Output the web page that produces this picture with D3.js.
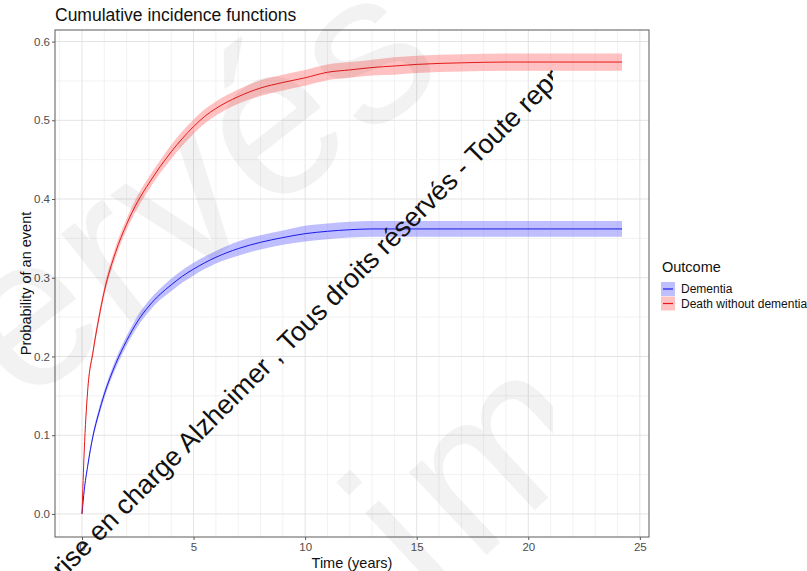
<!DOCTYPE html>
<html>
<head>
<meta charset="utf-8">
<script src="https://cdn.jsdelivr.net/npm/d3@7"></script>
<style>
  body { margin: 0; background: #fff; }
  text { font-family: "Liberation Sans", Arial, sans-serif; }
</style>
</head>
<body>
<div id="chart"></div>
<script>
const width = 807;
const height = 571;

// time (years) and cumulative incidence
const times = [0, 0.1, 0.25, 0.5, 0.75, 1, 1.5, 2, 2.5, 3, 3.5, 4, 4.5, 5, 5.5, 6, 7, 8, 9, 10, 11, 12, 13, 14, 15, 17, 19, 21, 24.2];
const dementia = [0, 0.03, 0.06, 0.1, 0.128, 0.152, 0.19, 0.22, 0.245, 0.264, 0.279, 0.291, 0.302, 0.311, 0.319, 0.326, 0.337, 0.345, 0.351, 0.356, 0.359, 0.361, 0.362, 0.362, 0.362, 0.362, 0.362, 0.362, 0.362];
const death = [0, 0.08, 0.155, 0.207, 0.248, 0.283, 0.332, 0.368, 0.397, 0.42, 0.441, 0.46, 0.477, 0.492, 0.505, 0.515, 0.53, 0.541, 0.548, 0.554, 0.561, 0.564, 0.567, 0.569, 0.571, 0.573, 0.574, 0.574, 0.574];
// half width of the confidence band
const dementiaHalf = [0, 0.002, 0.003, 0.004, 0.005, 0.005, 0.006, 0.006, 0.007, 0.007, 0.007, 0.008, 0.008, 0.008, 0.008, 0.008, 0.009, 0.009, 0.009, 0.01, 0.01, 0.01, 0.01, 0.01, 0.01, 0.01, 0.01, 0.01, 0.01];
const deathHalf = [0, 0.003, 0.004, 0.005, 0.006, 0.006, 0.007, 0.007, 0.008, 0.008, 0.008, 0.009, 0.009, 0.009, 0.009, 0.009, 0.009, 0.01, 0.01, 0.01, 0.01, 0.01, 0.01, 0.011, 0.011, 0.011, 0.011, 0.011, 0.011];

const outcomes = ["Dementia", "Death without dementia"];
const lineColors = ["#1a1ae6", "#e61a1a"];
const bandColors = ["#6666ff", "#ff6b6b"];
const xTicks = [0, 5, 10, 15, 20, 25];
const yTicks = [0, 0.1, 0.2, 0.3, 0.4, 0.5, 0.6];

const panel = { left: 55, right: 649, top: 30, bottom: 537 };

const x = d3.scaleLinear().domain([-1.21, 25.41]).range([panel.left, panel.right]);
const y = d3.scaleLinear().domain([-0.0293, 0.6147]).range([panel.bottom, panel.top]);

const svg = d3
  .select("#chart")
  .append("svg")
  .attr("width", width)
  .attr("height", height);

svg
  .append("clipPath")
  .attr("id", "wm-clip")
  .append("rect")
  .attr("x", 0)
  .attr("y", 0)
  .attr("width", 553)
  .attr("height", height);

// grid
const grid = svg.append("g");
grid
  .selectAll("line.vx")
  .data(d3.range(-1, 26))
  .join("line")
  .attr("x1", (d) => x(d))
  .attr("x2", (d) => x(d))
  .attr("y1", panel.top)
  .attr("y2", panel.bottom)
  .attr("stroke", (d) => (d % 5 === 0 ? "#e3e3e3" : "#ededed"))
  .attr("stroke-width", (d) => (d % 5 === 0 ? 1 : 0.7));
grid
  .selectAll("line.hy")
  .data(d3.range(0, 13).map((i) => i * 0.05))
  .join("line")
  .attr("x1", panel.left)
  .attr("x2", panel.right)
  .attr("y1", (d) => y(d))
  .attr("y2", (d) => y(d))
  .attr("stroke", (d, i) => (i % 2 === 0 ? "#e3e3e3" : "#ededed"))
  .attr("stroke-width", (d, i) => (i % 2 === 0 ? 1 : 0.7));

const series = [dementia, death].map((vals, k) => {
  const half = k === 0 ? dementiaHalf : deathHalf;
  return times.map((t, i) => ({ t, v: vals[i], lo: vals[i] - half[i], hi: vals[i] + half[i] }));
});

const area = d3
  .area()
  .x((d) => x(d.t))
  .y0((d) => y(d.lo))
  .y1((d) => y(d.hi))
  .curve(d3.curveMonotoneX);
const line = d3
  .line()
  .x((d) => x(d.t))
  .y((d) => y(d.v))
  .curve(d3.curveMonotoneX);

series.forEach((s, k) => {
  svg
    .append("path")
    .attr("d", area(s))
    .attr("fill", bandColors[k])
    .attr("fill-opacity", 0.42);
});
series.forEach((s, k) => {
  svg
    .append("path")
    .attr("d", line(s))
    .attr("fill", "none")
    .attr("stroke", lineColors[k])
    .attr("stroke-width", 1);
});

// panel border
svg
  .append("rect")
  .attr("x", panel.left)
  .attr("y", panel.top)
  .attr("width", panel.right - panel.left)
  .attr("height", panel.bottom - panel.top)
  .attr("fill", "none")
  .attr("stroke", "#5a5a5a")
  .attr("stroke-width", 1);

// axes
const xAxis = svg
  .append("g")
  .attr("transform", `translate(0 ${panel.bottom})`)
  .call(d3.axisBottom(x).tickValues(xTicks).tickSize(3).tickPadding(3).tickFormat(d3.format("d")));
const yAxis = svg
  .append("g")
  .attr("transform", `translate(${panel.left} 0)`)
  .call(d3.axisLeft(y).tickValues(yTicks).tickSize(3).tickPadding(2).tickFormat(d3.format(".1f")));
[xAxis, yAxis].forEach((a) => {
  a.select(".domain").remove();
  a.selectAll(".tick line").attr("stroke", "#5a5a5a");
  a.selectAll(".tick text")
    .attr("fill", "#4d4d4d")
    .attr("font-size", 11.5)
    .attr("font-family", '"Liberation Sans", Arial, sans-serif');
});

// titles
svg
  .append("text")
  .attr("x", 55)
  .attr("y", 21)
  .attr("font-size", 17.5)
  .attr("fill", "#111")
  .text("Cumulative incidence functions");
svg
  .append("text")
  .attr("x", (panel.left + panel.right) / 2)
  .attr("y", 568)
  .attr("text-anchor", "middle")
  .attr("font-size", 14.5)
  .attr("fill", "#111")
  .text("Time (years)");
svg
  .append("text")
  .attr("transform", `translate(31 ${(panel.top + panel.bottom) / 2}) rotate(-90)`)
  .attr("text-anchor", "middle")
  .attr("font-size", 14.5)
  .attr("fill", "#111")
  .text("Probability of an event");

// legend
const legend = svg.append("g").attr("transform", "translate(661 0)");
legend
  .append("text")
  .attr("x", 1)
  .attr("y", 272)
  .attr("font-size", 14.5)
  .attr("fill", "#111")
  .text("Outcome");
const keys = legend
  .selectAll("g.key")
  .data(outcomes)
  .join("g")
  .attr("transform", (d, i) => `translate(0 ${282 + i * 14.5})`);
keys
  .append("rect")
  .attr("width", 14)
  .attr("height", 14)
  .attr("fill", (d, i) => bandColors[i])
  .attr("fill-opacity", 0.42);
keys
  .append("line")
  .attr("x1", 2)
  .attr("x2", 12)
  .attr("y1", 7)
  .attr("y2", 7)
  .attr("stroke", (d, i) => lineColors[i])
  .attr("stroke-width", 1.2);
keys
  .append("text")
  .attr("x", 20)
  .attr("y", 11)
  .attr("font-size", 12)
  .attr("fill", "#111")
  .text((d) => d);

// watermark, cut at the right like in the picture
const wm = svg.append("g").attr("clip-path", "url(#wm-clip)");
wm.append("text")
  .attr("transform", "translate(22 408) rotate(-38)")
  .attr("font-size", 215)
  .attr("letter-spacing", 4)
  .attr("fill", "#000")
  .attr("fill-opacity", 0.05)
  .text("ervés");
wm.append("text")
  .attr("transform", "translate(432 606) rotate(-43)")
  .attr("font-size", 215)
  .attr("letter-spacing", 12)
  .attr("fill", "#000")
  .attr("fill-opacity", 0.05)
  .text("im");
wm.append("text")
  .attr("transform", "translate(63 579) rotate(-45)")
  .attr("font-size", 27)
  .attr("fill", "#111")
  .text("rise en charge Alzheimer , Tous droits réservés - Toute reproduction");
</script>
</body>
</html>
